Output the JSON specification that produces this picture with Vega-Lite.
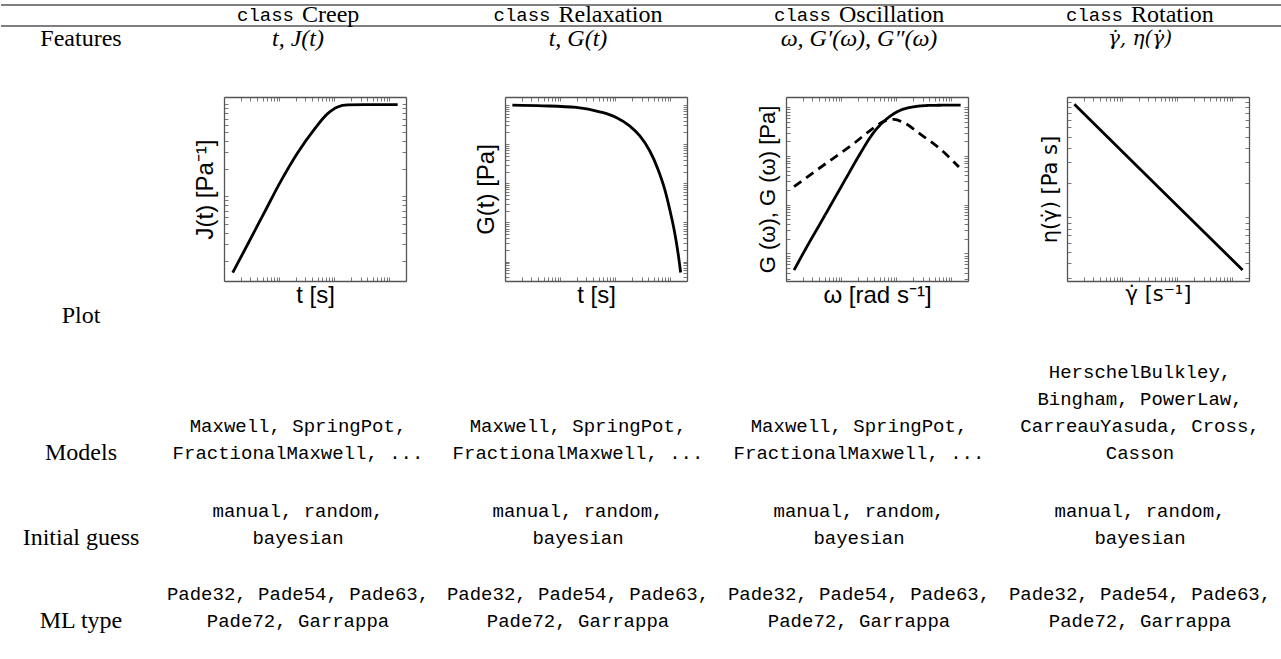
{
  "$schema": "https://vega.github.io/schema/vega-lite/v6.json",
  "padding": 0,
  "background": "white",
  "spacing": 0,
  "config": {
    "view": {"stroke": null, "fill": "white"},
    "axis": {
      "grid": false,
      "labels": false,
      "tickSize": -4,
      "tickColor": "#555",
      "tickWidth": 0.8,
      "domainColor": "#555",
      "domainWidth": 1.3,
      "tickCount": 30,
      "titleFont": "Liberation Sans",
      "titleFontSize": 24,
      "titleFontWeight": "normal",
      "titleColor": "black"
    }
  },
  "datasets": {
    "rules": [{"r": 0}, {"r": 1}],
    "table": [
      {"r": 0, "c": 1, "k": 0, "kind": "kw", "text": "class"},
      {"r": 0, "c": 2, "k": 0, "kind": "kw", "text": "class"},
      {"r": 0, "c": 3, "k": 0, "kind": "kw", "text": "class"},
      {"r": 0, "c": 4, "k": 0, "kind": "kw", "text": "class"},
      {"r": 0, "c": 1, "k": 0, "kind": "name", "text": "Creep"},
      {"r": 0, "c": 2, "k": 0, "kind": "name", "text": "Relaxation"},
      {"r": 0, "c": 3, "k": 0, "kind": "name", "text": "Oscillation"},
      {"r": 0, "c": 4, "k": 0, "kind": "name", "text": "Rotation"},
      {"r": 1, "c": 0, "k": 0, "kind": "label", "text": "Features"},
      {"r": 1, "c": 1, "k": 0, "kind": "feat", "text": "t, J(t)"},
      {"r": 1, "c": 2, "k": 0, "kind": "feat", "text": "t, G(t)"},
      {"r": 1, "c": 3, "k": 0, "kind": "feat", "text": "ω, G′(ω), G″(ω)"},
      {"r": 1, "c": 4, "k": 0, "kind": "featdot", "text": "γ̇, η(γ̇)"},
      {"r": 2, "c": 0, "k": 0, "kind": "label", "text": "Plot"},
      {"r": 3, "c": 0, "k": 0, "kind": "label", "text": "Models"},
      {"r": 3, "c": 1, "k": 1, "kind": "code", "text": "Maxwell, SpringPot,"},
      {"r": 3, "c": 1, "k": 0, "kind": "code", "text": "FractionalMaxwell, ..."},
      {"r": 3, "c": 2, "k": 1, "kind": "code", "text": "Maxwell, SpringPot,"},
      {"r": 3, "c": 2, "k": 0, "kind": "code", "text": "FractionalMaxwell, ..."},
      {"r": 3, "c": 3, "k": 1, "kind": "code", "text": "Maxwell, SpringPot,"},
      {"r": 3, "c": 3, "k": 0, "kind": "code", "text": "FractionalMaxwell, ..."},
      {"r": 3, "c": 4, "k": 3, "kind": "code", "text": "HerschelBulkley,"},
      {"r": 3, "c": 4, "k": 2, "kind": "code", "text": "Bingham, PowerLaw,"},
      {"r": 3, "c": 4, "k": 1, "kind": "code", "text": "CarreauYasuda, Cross,"},
      {"r": 3, "c": 4, "k": 0, "kind": "code", "text": "Casson"},
      {"r": 4, "c": 0, "k": 0, "kind": "label", "text": "Initial guess"},
      {"r": 4, "c": 1, "k": 1, "kind": "code", "text": "manual, random,"},
      {"r": 4, "c": 1, "k": 0, "kind": "code", "text": "bayesian"},
      {"r": 4, "c": 2, "k": 1, "kind": "code", "text": "manual, random,"},
      {"r": 4, "c": 2, "k": 0, "kind": "code", "text": "bayesian"},
      {"r": 4, "c": 3, "k": 1, "kind": "code", "text": "manual, random,"},
      {"r": 4, "c": 3, "k": 0, "kind": "code", "text": "bayesian"},
      {"r": 4, "c": 4, "k": 1, "kind": "code", "text": "manual, random,"},
      {"r": 4, "c": 4, "k": 0, "kind": "code", "text": "bayesian"},
      {"r": 5, "c": 0, "k": 0, "kind": "label", "text": "ML type"},
      {"r": 5, "c": 1, "k": 1, "kind": "code", "text": "Pade32, Pade54, Pade63,"},
      {"r": 5, "c": 1, "k": 0, "kind": "code", "text": "Pade72, Garrappa"},
      {"r": 5, "c": 2, "k": 1, "kind": "code", "text": "Pade32, Pade54, Pade63,"},
      {"r": 5, "c": 2, "k": 0, "kind": "code", "text": "Pade72, Garrappa"},
      {"r": 5, "c": 3, "k": 1, "kind": "code", "text": "Pade32, Pade54, Pade63,"},
      {"r": 5, "c": 3, "k": 0, "kind": "code", "text": "Pade72, Garrappa"},
      {"r": 5, "c": 4, "k": 1, "kind": "code", "text": "Pade32, Pade54, Pade63,"},
      {"r": 5, "c": 4, "k": 0, "kind": "code", "text": "Pade72, Garrappa"}
    ],
    "curves": [
      {"p": "creep", "s": "a", "x": 1.44, "y": 0.148},
      {"p": "creep", "s": "a", "x": 2.69, "y": 0.301},
      {"p": "creep", "s": "a", "x": 5.38, "y": 0.664},
      {"p": "creep", "s": "a", "x": 10.8, "y": 1.47},
      {"p": "creep", "s": "a", "x": 21.7, "y": 2.98},
      {"p": "creep", "s": "a", "x": 43.4, "y": 5.35},
      {"p": "creep", "s": "a", "x": 75.9, "y": 7.91},
      {"p": "creep", "s": "a", "x": 115, "y": 9.35},
      {"p": "creep", "s": "a", "x": 175, "y": 9.83},
      {"p": "creep", "s": "a", "x": 350, "y": 9.9},
      {"p": "creep", "s": "a", "x": 1413, "y": 9.9},
      {"p": "relax", "s": "a", "x": 1.36, "y": 9930},
      {"p": "relax", "s": "a", "x": 4.89, "y": 9550},
      {"p": "relax", "s": "a", "x": 19.6, "y": 8650},
      {"p": "relax", "s": "a", "x": 52.1, "y": 6710},
      {"p": "relax", "s": "a", "x": 104, "y": 4810},
      {"p": "relax", "s": "a", "x": 182, "y": 2940},
      {"p": "relax", "s": "a", "x": 277, "y": 1640},
      {"p": "relax", "s": "a", "x": 421, "y": 678},
      {"p": "relax", "s": "a", "x": 594, "y": 230},
      {"p": "relax", "s": "a", "x": 787, "y": 71.1},
      {"p": "relax", "s": "a", "x": 969, "y": 21.9},
      {"p": "relax", "s": "a", "x": 1194, "y": 5.55},
      {"p": "relax", "s": "a", "x": 1371, "y": 1.71},
      {"p": "relax", "s": "a", "x": 1535, "y": 0.527},
      {"p": "osc", "s": "storage", "x": 1.40, "y": 0.453},
      {"p": "osc", "s": "storage", "x": 2.43, "y": 1.41},
      {"p": "osc", "s": "storage", "x": 4.25, "y": 4.24},
      {"p": "osc", "s": "storage", "x": 7.41, "y": 12.8},
      {"p": "osc", "s": "storage", "x": 12.9, "y": 38.5},
      {"p": "osc", "s": "storage", "x": 22.6, "y": 116},
      {"p": "osc", "s": "storage", "x": 36.7, "y": 277},
      {"p": "osc", "s": "storage", "x": 52.1, "y": 444},
      {"p": "osc", "s": "storage", "x": 73.8, "y": 628},
      {"p": "osc", "s": "storage", "x": 120, "y": 873},
      {"p": "osc", "s": "storage", "x": 209, "y": 1021},
      {"p": "osc", "s": "storage", "x": 421, "y": 1091},
      {"p": "osc", "s": "storage", "x": 1472, "y": 1107},
      {"p": "osc", "s": "loss", "x": 1.40, "y": 23.3},
      {"p": "osc", "s": "loss", "x": 3.22, "y": 46.6},
      {"p": "osc", "s": "loss", "x": 7.41, "y": 91.6},
      {"p": "osc", "s": "loss", "x": 17.1, "y": 181},
      {"p": "osc", "s": "loss", "x": 34.4, "y": 340},
      {"p": "osc", "s": "loss", "x": 59.8, "y": 512},
      {"p": "osc", "s": "loss", "x": 90.8, "y": 562},
      {"p": "osc", "s": "loss", "x": 138, "y": 480},
      {"p": "osc", "s": "loss", "x": 277, "y": 277},
      {"p": "osc", "s": "loss", "x": 638, "y": 136},
      {"p": "osc", "s": "loss", "x": 1371, "y": 59.0},
      {"p": "rot", "s": "a", "x": 1.36, "y": 95.0},
      {"p": "rot", "s": "a", "x": 45.6, "y": 18.2},
      {"p": "rot", "s": "a", "x": 1532, "y": 3.5}
    ]
  },
  "vconcat": [
    {
      "width": 1281,
      "height": 96,
      "layer": [
        {
          "data": {"name": "rules"},
          "mark": {"type": "rule", "color": "black", "strokeWidth": 1.1},
          "encoding": {
            "y": {"field": "r", "type": "quantitative", "scale": {"domain": [0, 1], "range": [5, 26], "zero": false, "nice": false}, "axis": null}
          }
        },
        {
          "data": {"name": "table"},
          "transform": [{"filter": "datum.kind === 'kw'"}],
          "mark": {"type": "text", "font": "Liberation Mono", "fontSize": 19, "align": "right", "baseline": "middle", "color": "black"},
          "encoding": {
            "x": {"field": "c", "type": "quantitative", "scale": {"domain": [1, 2, 3, 4], "range": [293, 549.5, 830, 1122], "zero": false, "nice": false}, "axis": null},
            "y": {"field": "r", "type": "quantitative", "scale": {"domain": [0, 1], "range": [15, 39], "zero": false, "nice": false}, "axis": null},
            "text": {"field": "text"}
          }
        },
        {
          "data": {"name": "table"},
          "transform": [{"filter": "datum.kind === 'name'"}],
          "mark": {"type": "text", "font": "Liberation Serif", "fontSize": 24, "align": "left", "baseline": "middle", "color": "black"},
          "encoding": {
            "x": {"field": "c", "type": "quantitative", "scale": {"domain": [1, 2, 3, 4], "range": [301, 557.5, 838, 1130], "zero": false, "nice": false}, "axis": null},
            "y": {"field": "r", "type": "quantitative", "scale": {"domain": [0, 1], "range": [15, 39], "zero": false, "nice": false}, "axis": null},
            "text": {"field": "text"}
          }
        },
        {
          "data": {"name": "table"},
          "transform": [{"filter": "datum.kind === 'label' && datum.r === 1"}],
          "mark": {"type": "text", "font": "Liberation Serif", "fontSize": 24, "align": "center", "baseline": "middle", "color": "black"},
          "encoding": {
            "x": {"field": "c", "type": "quantitative", "scale": {"domain": [0, 1, 2, 3, 4], "range": [80, 297, 577, 858, 1139], "zero": false, "nice": false}, "axis": null},
            "y": {"field": "r", "type": "quantitative", "scale": {"domain": [0, 1], "range": [15, 39], "zero": false, "nice": false}, "axis": null},
            "text": {"field": "text"}
          }
        },
        {
          "data": {"name": "table"},
          "transform": [{"filter": "datum.kind === 'feat'"}],
          "mark": {"type": "text", "font": "Liberation Serif", "fontSize": 24, "fontStyle": "italic", "align": "center", "baseline": "middle", "color": "black"},
          "encoding": {
            "x": {"field": "c", "type": "quantitative", "scale": {"domain": [0, 1, 2, 3, 4], "range": [80, 297, 577, 858, 1139], "zero": false, "nice": false}, "axis": null},
            "y": {"field": "r", "type": "quantitative", "scale": {"domain": [0, 1], "range": [15, 39], "zero": false, "nice": false}, "axis": null},
            "text": {"field": "text"}
          }
        },
        {
          "data": {"name": "table"},
          "transform": [{"filter": "datum.kind === 'featdot'"}],
          "mark": {"type": "text", "font": "DejaVu Serif", "fontSize": 20, "fontStyle": "italic", "align": "center", "baseline": "middle", "color": "black"},
          "encoding": {
            "x": {"field": "c", "type": "quantitative", "scale": {"domain": [0, 1, 2, 3, 4], "range": [80, 297, 577, 858, 1139], "zero": false, "nice": false}, "axis": null},
            "y": {"field": "r", "type": "quantitative", "scale": {"domain": [0, 1], "range": [15, 39], "zero": false, "nice": false}, "axis": null},
            "text": {"field": "text"}
          }
        }
      ],
      "resolve": {"scale": {"x": "independent", "y": "independent"}}
    },
    {
      "hconcat": [
        {
          "width": 124,
          "height": 184,
          "data": {"name": "table"},
          "transform": [{"filter": "datum.r === 2"}],
          "mark": {"type": "text", "font": "Liberation Serif", "fontSize": 24, "align": "center", "baseline": "middle", "color": "black"},
          "encoding": {
            "x": {"field": "c", "type": "quantitative", "scale": {"domain": [0, 1], "range": [80, 297], "zero": false, "nice": false}, "axis": null},
            "y": {"field": "r", "type": "quantitative", "scale": {"domain": [2, 3], "range": [219, 356], "zero": false, "nice": false}, "axis": null},
            "text": {"field": "text"}
          }
        },
        {
          "width": 182,
          "height": 184,
          "data": {"name": "curves"},
          "transform": [{"filter": "datum.p === 'creep'"}],
          "layer": [
            {
              "mark": {"type": "line", "color": "black", "strokeWidth": 2.8, "interpolate": "monotone"},
              "encoding": {
                "x": {"field": "x", "type": "quantitative", "scale": {"type": "log", "domain": [1, 2000], "nice": false}, "axis": {"orient": "bottom", "title": "t [s]", "titlePadding": 2}},
                "y": {"field": "y", "type": "quantitative", "scale": {"type": "log", "domain": [0.12, 12], "nice": false}, "axis": {"orient": "left", "title": "J(t) [Pa⁻¹]", "titlePadding": 6}}
              }
            },
            {
              "mark": {"type": "line", "opacity": 0},
              "encoding": {
                "x": {"field": "x", "type": "quantitative", "axis": {"orient": "top", "title": null}},
                "y": {"field": "y", "type": "quantitative", "axis": {"orient": "right", "title": null}}
              }
            }
          ],
          "resolve": {"axis": {"x": "independent", "y": "independent"}}
        },
        {
          "width": 182,
          "height": 184,
          "data": {"name": "curves"},
          "transform": [{"filter": "datum.p === 'relax'"}],
          "layer": [
            {
              "mark": {"type": "line", "color": "black", "strokeWidth": 2.8, "interpolate": "monotone"},
              "encoding": {
                "x": {"field": "x", "type": "quantitative", "scale": {"type": "log", "domain": [1, 2000], "nice": false}, "axis": {"orient": "bottom", "title": "t [s]", "titlePadding": 2}},
                "y": {"field": "y", "type": "quantitative", "scale": {"type": "log", "domain": [0.32, 16000], "nice": false}, "axis": {"orient": "left", "title": "G(t) [Pa]", "titlePadding": 6}}
              }
            },
            {
              "mark": {"type": "line", "opacity": 0},
              "encoding": {
                "x": {"field": "x", "type": "quantitative", "axis": {"orient": "top", "title": null}},
                "y": {"field": "y", "type": "quantitative", "axis": {"orient": "right", "title": null}}
              }
            }
          ],
          "resolve": {"axis": {"x": "independent", "y": "independent"}}
        },
        {
          "width": 182,
          "height": 184,
          "data": {"name": "curves"},
          "transform": [{"filter": "datum.p === 'osc'"}],
          "layer": [
            {
              "mark": {"type": "line", "color": "black", "strokeWidth": 2.8, "interpolate": "monotone"},
              "encoding": {
                "x": {"field": "x", "type": "quantitative", "scale": {"type": "log", "domain": [1, 2000], "nice": false}, "axis": {"orient": "bottom", "title": "ω [rad s⁻¹]", "titlePadding": 2}},
                "y": {"field": "y", "type": "quantitative", "scale": {"type": "log", "domain": [0.27, 1622], "nice": false}, "axis": {"orient": "left", "title": "G (ω), G (ω) [Pa]", "titlePadding": 6, "titleFontSize": 22}},
                "strokeDash": {"field": "s", "type": "nominal", "scale": {"domain": ["storage", "loss"], "range": [[1, 0], [9, 6]]}, "legend": null}
              }
            },
            {
              "mark": {"type": "line", "opacity": 0},
              "encoding": {
                "x": {"field": "x", "type": "quantitative", "axis": {"orient": "top", "title": null}},
                "y": {"field": "y", "type": "quantitative", "axis": {"orient": "right", "title": null}},
                "detail": {"field": "s"}
              }
            }
          ],
          "resolve": {"axis": {"x": "independent", "y": "independent"}}
        },
        {
          "width": 182,
          "height": 184,
          "data": {"name": "curves"},
          "transform": [{"filter": "datum.p === 'rot'"}],
          "layer": [
            {
              "mark": {"type": "line", "color": "black", "strokeWidth": 2.8},
              "encoding": {
                "x": {"field": "x", "type": "quantitative", "scale": {"type": "log", "domain": [1, 2000], "nice": false}, "axis": {"orient": "bottom", "title": "γ̇ [s⁻¹]", "titlePadding": 2, "titleFont": "DejaVu Sans", "titleFontSize": 21}},
                "y": {"field": "y", "type": "quantitative", "scale": {"type": "log", "domain": [2.81, 110], "nice": false}, "axis": {"orient": "left", "title": "η(γ̇) [Pa s]", "titlePadding": 6, "titleFont": "DejaVu Sans", "titleFontSize": 21}}
              }
            },
            {
              "mark": {"type": "line", "opacity": 0},
              "encoding": {
                "x": {"field": "x", "type": "quantitative", "axis": {"orient": "top", "title": null}},
                "y": {"field": "y", "type": "quantitative", "axis": {"orient": "right", "title": null}}
              }
            }
          ],
          "resolve": {"axis": {"x": "independent", "y": "independent"}}
        }
      ],
      "spacing": 99,
      "bounds": "flush"
    },
    {
      "width": 1281,
      "height": 332,
      "data": {"name": "table"},
      "transform": [{"filter": "datum.r >= 3"}],
      "encoding": {
        "x": {"field": "c", "type": "quantitative", "scale": {"domain": [0, 1, 2, 3, 4], "range": [80, 297, 577, 858, 1139], "zero": false, "nice": false}, "axis": null},
        "y": {"field": "r", "type": "quantitative", "scale": {"domain": [3, 4, 5], "range": [125, 209.5, 293], "zero": false, "nice": false}, "axis": null},
        "text": {"field": "text"}
      },
      "layer": [
        {
          "transform": [{"filter": "datum.kind === 'label'"}],
          "mark": {"type": "text", "font": "Liberation Serif", "fontSize": 24, "align": "center", "baseline": "middle", "color": "black"}
        },
        {
          "transform": [{"filter": "datum.kind === 'code' && datum.k === 0"}],
          "mark": {"type": "text", "font": "Liberation Mono", "fontSize": 19, "align": "center", "baseline": "middle", "color": "black"}
        },
        {
          "transform": [{"filter": "datum.kind === 'code' && datum.k === 1"}],
          "mark": {"type": "text", "font": "Liberation Mono", "fontSize": 19, "align": "center", "baseline": "middle", "dy": -27, "color": "black"}
        },
        {
          "transform": [{"filter": "datum.kind === 'code' && datum.k === 2"}],
          "mark": {"type": "text", "font": "Liberation Mono", "fontSize": 19, "align": "center", "baseline": "middle", "dy": -54, "color": "black"}
        },
        {
          "transform": [{"filter": "datum.kind === 'code' && datum.k === 3"}],
          "mark": {"type": "text", "font": "Liberation Mono", "fontSize": 19, "align": "center", "baseline": "middle", "dy": -81, "color": "black"}
        }
      ]
    }
  ]
}
